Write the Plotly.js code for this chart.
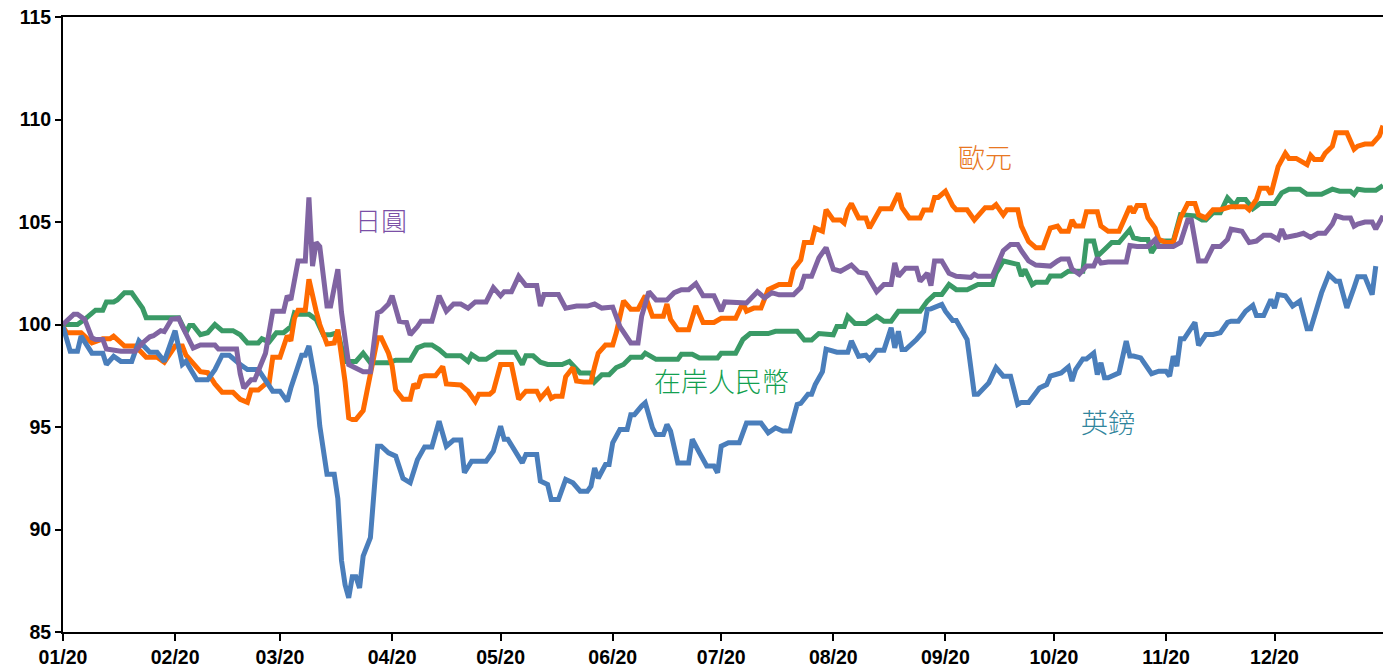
<!DOCTYPE html>
<html>
<head>
<meta charset="utf-8">
<script src="https://cdn.plot.ly/plotly-3.0.1.min.js"></script>
<style>
html,body{margin:0;padding:0;background:#fff;}
#chart{width:1383px;height:667px;}
</style>
</head>
<body>
<div id="chart"></div>
<script>
// ---- Data (index, 2020-01-01 = 100) ----
const jpyDates = ["2020-01-01","2020-01-04","2020-01-05","2020-01-07","2020-01-09","2020-01-10","2020-01-12","2020-01-13","2020-01-17","2020-01-21","2020-01-23","2020-01-25","2020-01-26","2020-01-28","2020-01-29","2020-01-31","2020-02-02","2020-02-03","2020-02-06","2020-02-08","2020-02-12","2020-02-13","2020-02-18","2020-02-19","2020-02-20","2020-02-22","2020-02-23","2020-02-25","2020-02-26","2020-02-28","2020-03-02","2020-03-03","2020-03-04","2020-03-06","2020-03-08","2020-03-09","2020-03-10","2020-03-11","2020-03-12","2020-03-14","2020-03-15","2020-03-17","2020-03-18","2020-03-20","2020-03-21","2020-03-24","2020-03-26","2020-03-28","2020-03-29","2020-03-31","2020-04-01","2020-04-03","2020-04-05","2020-04-06","2020-04-08","2020-04-09","2020-04-12","2020-04-14","2020-04-16","2020-04-18","2020-04-20","2020-04-22","2020-04-24","2020-04-27","2020-04-29","2020-05-01","2020-05-02","2020-05-04","2020-05-06","2020-05-08","2020-05-11","2020-05-12","2020-05-13","2020-05-17","2020-05-19","2020-05-22","2020-05-25","2020-05-27","2020-05-29","2020-06-01","2020-06-03","2020-06-06","2020-06-08","2020-06-09","2020-06-11","2020-06-13","2020-06-16","2020-06-18","2020-06-20","2020-06-22","2020-06-24","2020-06-26","2020-06-29","2020-07-01","2020-07-02","2020-07-06","2020-07-08","2020-07-11","2020-07-13","2020-07-15","2020-07-17","2020-07-21","2020-07-23","2020-07-24","2020-07-26","2020-07-28","2020-07-30","2020-08-01","2020-08-03","2020-08-06","2020-08-08","2020-08-10","2020-08-12","2020-08-13","2020-08-15","2020-08-17","2020-08-18","2020-08-19","2020-08-21","2020-08-24","2020-08-25","2020-08-27","2020-08-28","2020-08-29","2020-08-31","2020-09-02","2020-09-04","2020-09-08","2020-09-09","2020-09-10","2020-09-14","2020-09-15","2020-09-17","2020-09-19","2020-09-21","2020-09-22","2020-09-24","2020-09-26","2020-09-29","2020-09-30","2020-10-02","2020-10-03","2020-10-05","2020-10-06","2020-10-08","2020-10-10","2020-10-12","2020-10-13","2020-10-14","2020-10-16","2020-10-21","2020-10-22","2020-10-24","2020-10-27","2020-10-29","2020-10-30","2020-11-03","2020-11-05","2020-11-07","2020-11-08","2020-11-10","2020-11-12","2020-11-14","2020-11-16","2020-11-18","2020-11-19","2020-11-22","2020-11-24","2020-11-26","2020-11-28","2020-11-30","2020-12-02","2020-12-03","2020-12-04","2020-12-07","2020-12-09","2020-12-11","2020-12-13","2020-12-15","2020-12-17","2020-12-18","2020-12-20","2020-12-22","2020-12-23","2020-12-24","2020-12-26","2020-12-28","2020-12-29","2020-12-31"];
const jpyValues = [100,100.5,100.5,100.25,99.35,99.27,99.27,98.8,98.7,98.7,99.1,99.4,99.45,99.7,99.65,100.25,100.3,99.9,98.85,99.0,99.0,98.8,98.8,97.6,96.9,97.3,97.3,98.2,98.6,100.65,100.65,101.4,101.2,103.1,103.1,106.2,102.85,104,103.8,100.9,100.9,102.7,100.6,98.05,97.97,97.7,97.7,100.57,100.65,101,101.4,100.16,100.1,99.5,99.9,100.16,100.16,101.4,100.65,101,101,100.8,101.1,101.1,101.8,101.4,101.6,101.6,102.35,101.9,101.9,100.9,101.46,101.46,100.8,100.9,100.9,101,100.8,100.85,99.9,99.1,99.1,100.4,101.6,101.2,101.2,101.55,101.7,101.7,102,101.4,101.4,100.65,101.1,101.1,101.05,101.6,101.3,101.55,101.45,101.45,101.8,102.35,102.35,103.25,103.75,102.7,102.6,102.9,102.55,102.5,101.87,101.6,101.95,101.95,103,102.35,102.75,102.75,102.1,102.5,101.9,103.1,103.1,102.5,102.35,102.3,102.45,102.35,102.35,102.75,103.6,103.9,103.9,103.6,103.1,102.9,102.9,102.85,103.1,103.2,103.2,102.7,102.45,102.85,102.85,103.25,103,103.05,103.05,103.85,103.8,103.8,104.15,103.8,103.8,104,105.1,105.1,103.1,103.1,103.8,103.8,104.15,104.65,104.55,104,104.07,104.35,104.35,104.15,104.65,104.25,104.35,104.45,104.25,104.45,104.45,104.9,105.3,105.2,105.2,104.8,104.9,105,105,104.65,105.3];

const eurDates = ["2020-01-01","2020-01-02","2020-01-06","2020-01-09","2020-01-12","2020-01-14","2020-01-15","2020-01-16","2020-01-18","2020-01-21","2020-01-24","2020-01-27","2020-01-29","2020-02-01","2020-02-03","2020-02-04","2020-02-06","2020-02-08","2020-02-10","2020-02-12","2020-02-14","2020-02-17","2020-02-19","2020-02-21","2020-02-22","2020-02-24","2020-02-26","2020-02-27","2020-02-28","2020-03-01","2020-03-03","2020-03-04","2020-03-05","2020-03-06","2020-03-08","2020-03-09","2020-03-11","2020-03-12","2020-03-14","2020-03-16","2020-03-17","2020-03-18","2020-03-19","2020-03-20","2020-03-21","2020-03-22","2020-03-24","2020-03-25","2020-03-27","2020-03-28","2020-03-29","2020-03-31","2020-04-01","2020-04-02","2020-04-04","2020-04-06","2020-04-07","2020-04-08","2020-04-09","2020-04-10","2020-04-13","2020-04-15","2020-04-16","2020-04-18","2020-04-20","2020-04-22","2020-04-24","2020-04-25","2020-04-28","2020-04-29","2020-05-01","2020-05-04","2020-05-06","2020-05-08","2020-05-11","2020-05-12","2020-05-14","2020-05-15","2020-05-16","2020-05-18","2020-05-19","2020-05-21","2020-05-22","2020-05-24","2020-05-26","2020-05-27","2020-05-28","2020-05-30","2020-06-01","2020-06-02","2020-06-04","2020-06-06","2020-06-08","2020-06-10","2020-06-12","2020-06-15","2020-06-16","2020-06-17","2020-06-19","2020-06-22","2020-06-24","2020-06-26","2020-06-29","2020-07-01","2020-07-05","2020-07-07","2020-07-08","2020-07-10","2020-07-12","2020-07-14","2020-07-17","2020-07-20","2020-07-21","2020-07-23","2020-07-24","2020-07-26","2020-07-27","2020-07-29","2020-07-30","2020-08-01","2020-08-03","2020-08-04","2020-08-05","2020-08-06","2020-08-08","2020-08-10","2020-08-11","2020-08-14","2020-08-17","2020-08-19","2020-08-20","2020-08-22","2020-08-25","2020-08-26","2020-08-28","2020-08-29","2020-08-30","2020-09-01","2020-09-03","2020-09-04","2020-09-07","2020-09-09","2020-09-12","2020-09-14","2020-09-15","2020-09-17","2020-09-18","2020-09-21","2020-09-22","2020-09-24","2020-09-26","2020-09-28","2020-09-30","2020-10-02","2020-10-03","2020-10-05","2020-10-06","2020-10-07","2020-10-09","2020-10-10","2020-10-13","2020-10-14","2020-10-16","2020-10-19","2020-10-21","2020-10-22","2020-10-23","2020-10-24","2020-10-26","2020-10-27","2020-10-29","2020-10-30","2020-11-01","2020-11-03","2020-11-05","2020-11-07","2020-11-09","2020-11-10","2020-11-12","2020-11-14","2020-11-16","2020-11-19","2020-11-23","2020-11-24","2020-11-26","2020-11-27","2020-11-29","2020-11-30","2020-12-02","2020-12-04","2020-12-05","2020-12-07","2020-12-10","2020-12-11","2020-12-12","2020-12-14","2020-12-15","2020-12-17","2020-12-18","2020-12-21","2020-12-23","2020-12-24","2020-12-26","2020-12-28","2020-12-30","2020-12-31"];
const eurValues = [99.9,99.6,99.6,99.1,99.3,99.3,99.43,99.27,98.95,98.95,98.4,98.4,98.16,98.95,98.95,98.5,98.1,97.7,97.65,97.1,96.7,96.7,96.35,96.2,96.8,96.8,97.1,97.15,98.4,98.4,99.45,99.2,100.3,100.7,100.7,102.2,100.65,100,99.05,99.1,99.75,98.6,97.2,95.45,95.37,95.37,95.8,96.7,98.3,99.35,99.35,98.6,98,96.8,96.35,96.35,97.1,96.9,97.45,97.5,97.5,97.95,97.1,97.05,97.05,96.75,96.25,96.6,96.6,96.75,98.05,98.05,96.35,96.75,96.75,96.4,96.8,96.4,96.5,96.5,97.45,97.9,97.25,97.2,97.2,97.95,98.6,99,99,99.6,101.15,100.75,100.75,101.4,100.4,100.4,101,100.25,99.75,99.75,100.9,100.1,100.1,100.3,100.3,101.05,100.65,100.8,100.8,101.7,101.95,101.95,102.7,103.15,104,104,104.7,104.55,105.6,105.1,105.1,104.95,105.6,105.9,105.2,105.2,104.7,105.65,105.65,106.4,105.7,105.2,105.2,105.58,105.58,106.2,106.2,106.5,105.8,105.6,105.6,105.1,105.7,105.7,105.85,105.35,105.6,105.6,104.8,104.05,103.75,103.75,104.7,104.8,104.55,104.55,105.1,104.8,104.8,105.5,105.5,104.8,104.55,104.55,105.45,105.75,105.45,105.8,105.8,105.2,104.7,104.15,104,104,105.2,105.9,105.9,105.35,105.2,105.6,105.6,105.75,105.75,105.6,106.1,106.65,106.65,106.35,107.7,108.35,108.1,108.1,107.8,108.25,108.05,108.05,108.35,108.7,109.35,109.35,108.55,108.7,108.8,108.8,109.2,109.7];

const cnyDates = ["2020-01-01","2020-01-05","2020-01-07","2020-01-10","2020-01-12","2020-01-13","2020-01-15","2020-01-16","2020-01-18","2020-01-20","2020-01-21","2020-01-23","2020-01-24","2020-02-02","2020-02-04","2020-02-05","2020-02-06","2020-02-08","2020-02-10","2020-02-12","2020-02-14","2020-02-17","2020-02-19","2020-02-21","2020-02-24","2020-02-25","2020-02-27","2020-02-29","2020-03-02","2020-03-04","2020-03-05","2020-03-06","2020-03-09","2020-03-11","2020-03-13","2020-03-15","2020-03-17","2020-03-18","2020-03-19","2020-03-22","2020-03-24","2020-03-26","2020-03-31","2020-04-02","2020-04-06","2020-04-08","2020-04-10","2020-04-12","2020-04-14","2020-04-16","2020-04-20","2020-04-22","2020-04-23","2020-04-25","2020-04-27","2020-04-30","2020-05-05","2020-05-07","2020-05-08","2020-05-10","2020-05-12","2020-05-14","2020-05-18","2020-05-20","2020-05-23","2020-05-26","2020-05-27","2020-05-29","2020-05-31","2020-06-02","2020-06-04","2020-06-06","2020-06-09","2020-06-10","2020-06-13","2020-06-19","2020-06-20","2020-06-23","2020-06-25","2020-06-30","2020-07-01","2020-07-05","2020-07-07","2020-07-09","2020-07-14","2020-07-16","2020-07-22","2020-07-24","2020-07-26","2020-07-28","2020-07-30","2020-08-01","2020-08-02","2020-08-04","2020-08-05","2020-08-07","2020-08-10","2020-08-13","2020-08-15","2020-08-17","2020-08-19","2020-08-25","2020-08-27","2020-08-29","2020-08-31","2020-09-02","2020-09-04","2020-09-07","2020-09-09","2020-09-10","2020-09-14","2020-09-15","2020-09-17","2020-09-20","2020-09-21","2020-09-22","2020-09-23","2020-09-25","2020-09-26","2020-09-29","2020-09-30","2020-10-03","2020-10-05","2020-10-09","2020-10-10","2020-10-12","2020-10-13","2020-10-15","2020-10-17","2020-10-19","2020-10-22","2020-10-23","2020-10-25","2020-10-27","2020-10-28","2020-10-30","2020-11-03","2020-11-05","2020-11-07","2020-11-09","2020-11-11","2020-11-12","2020-11-14","2020-11-16","2020-11-18","2020-11-20","2020-11-21","2020-11-23","2020-11-25","2020-11-27","2020-12-01","2020-12-03","2020-12-05","2020-12-08","2020-12-10","2020-12-14","2020-12-17","2020-12-19","2020-12-22","2020-12-23","2020-12-24","2020-12-26","2020-12-29","2020-12-31"];
const cnyValues = [100,100,100.25,100.7,100.7,101.1,101.1,101.2,101.55,101.55,101.3,100.8,100.33,100.33,99.6,99.95,99.95,99.5,99.6,100,99.7,99.7,99.5,99.1,99.1,99.3,99.15,99.6,99.6,99.9,100.57,100.5,100.5,100.25,99.5,99.5,99.6,98.95,98.2,98.2,98.6,98.13,98.13,98.26,98.26,98.86,99,99,98.78,98.47,98.47,98.2,98.53,98.3,98.3,98.65,98.65,98.05,98.47,98.47,98.16,98.05,98.05,98.2,97.64,97.64,97.2,97.55,97.55,97.9,98.05,98.4,98.4,98.6,98.3,98.3,98.55,98.55,98.37,98.37,98.6,98.6,99.27,99.56,99.56,99.67,99.67,99.24,99.24,99.56,99.56,99.5,99.9,99.9,100.4,100.05,100.05,100.4,100.16,100.16,100.65,100.65,101.14,101.46,101.46,101.95,101.7,101.7,101.87,101.95,101.95,102.5,103.1,102.93,102.93,102.36,102.68,101.95,102.06,102.06,102.36,102.36,102.6,102.6,104.07,104.07,103.33,103.66,104,104,104.63,104.23,104.15,104.15,103.5,104.07,104.07,105.36,105.3,105.3,105.1,105.1,105.45,105.45,106.18,105.8,106.1,106.1,105.64,105.9,105.9,106.42,106.6,106.6,106.35,106.35,106.6,106.5,106.5,106.35,106.6,106.55,106.55,106.78];

const gbpDates = ["2020-01-01","2020-01-03","2020-01-05","2020-01-06","2020-01-09","2020-01-12","2020-01-13","2020-01-15","2020-01-17","2020-01-20","2020-01-22","2020-01-25","2020-01-27","2020-01-29","2020-02-01","2020-02-03","2020-02-04","2020-02-07","2020-02-10","2020-02-12","2020-02-14","2020-02-16","2020-02-19","2020-02-21","2020-02-24","2020-02-26","2020-02-28","2020-03-01","2020-03-03","2020-03-04","2020-03-07","2020-03-08","2020-03-09","2020-03-11","2020-03-12","2020-03-14","2020-03-16","2020-03-17","2020-03-18","2020-03-19","2020-03-20","2020-03-21","2020-03-22","2020-03-23","2020-03-24","2020-03-26","2020-03-28","2020-03-29","2020-03-31","2020-04-02","2020-04-04","2020-04-06","2020-04-08","2020-04-10","2020-04-12","2020-04-14","2020-04-16","2020-04-18","2020-04-20","2020-04-21","2020-04-23","2020-04-27","2020-04-29","2020-05-01","2020-05-02","2020-05-03","2020-05-05","2020-05-07","2020-05-08","2020-05-11","2020-05-12","2020-05-14","2020-05-15","2020-05-17","2020-05-19","2020-05-21","2020-05-23","2020-05-25","2020-05-26","2020-05-27","2020-05-28","2020-05-30","2020-05-31","2020-06-01","2020-06-03","2020-06-05","2020-06-06","2020-06-07","2020-06-09","2020-06-10","2020-06-12","2020-06-13","2020-06-15","2020-06-16","2020-06-17","2020-06-19","2020-06-22","2020-06-23","2020-06-25","2020-06-27","2020-06-29","2020-06-30","2020-07-01","2020-07-03","2020-07-06","2020-07-08","2020-07-12","2020-07-14","2020-07-16","2020-07-18","2020-07-20","2020-07-22","2020-07-23","2020-07-25","2020-07-26","2020-07-27","2020-07-29","2020-07-30","2020-08-02","2020-08-05","2020-08-06","2020-08-08","2020-08-10","2020-08-11","2020-08-12","2020-08-13","2020-08-15","2020-08-17","2020-08-18","2020-08-19","2020-08-20","2020-08-21","2020-08-24","2020-08-26","2020-08-27","2020-08-28","2020-08-31","2020-09-01","2020-09-03","2020-09-04","2020-09-07","2020-09-08","2020-09-09","2020-09-10","2020-09-13","2020-09-15","2020-09-17","2020-09-19","2020-09-21","2020-09-22","2020-09-24","2020-09-27","2020-09-29","2020-09-30","2020-10-02","2020-10-03","2020-10-05","2020-10-06","2020-10-07","2020-10-09","2020-10-10","2020-10-12","2020-10-13","2020-10-14","2020-10-15","2020-10-16","2020-10-19","2020-10-21","2020-10-22","2020-10-23","2020-10-25","2020-10-28","2020-10-30","2020-11-01","2020-11-02","2020-11-03","2020-11-04","2020-11-05","2020-11-06","2020-11-09","2020-11-10","2020-11-12","2020-11-14","2020-11-16","2020-11-18","2020-11-19","2020-11-21","2020-11-23","2020-11-25","2020-11-26","2020-11-28","2020-11-30","2020-12-01","2020-12-02","2020-12-04","2020-12-06","2020-12-08","2020-12-10","2020-12-11","2020-12-14","2020-12-16","2020-12-18","2020-12-19","2020-12-21","2020-12-23","2020-12-24","2020-12-26","2020-12-28","2020-12-29","2020-12-31"];
const gbpValues = [99.9,98.7,98.7,99.43,98.6,98.6,98.05,98.45,98.2,98.2,99.2,98.65,98.65,98.2,99.7,98.05,98.2,97.3,97.3,97.8,98.5,98.5,98.05,97.8,97.8,97.3,96.75,96.75,96.25,96.9,98.5,98.5,98.95,97,95.05,92.7,92.7,91.5,88.5,87.3,86.67,87.7,87.7,87.15,88.7,89.6,94.06,94.06,93.74,93.58,92.5,92.28,93.4,94.03,94.03,95.28,94.06,94.36,94.36,92.77,93.33,93.33,93.82,95.04,94.4,94.4,93.82,93.25,93.66,93.66,92.36,92.2,91.46,91.46,92.44,92.28,91.87,91.87,92.11,93,92.5,93.17,93.17,94.23,94.88,94.88,95.6,95.6,96.02,96.18,94.96,94.63,94.63,95.12,94.8,93.25,93.25,94.4,93.74,93.1,93.1,92.77,94.06,94.23,94.23,95.2,95.2,94.72,94.96,94.8,94.8,96.1,96.15,96.6,96.6,97.07,97.7,98.8,98.65,98.65,99.2,98.45,98.5,98.3,98.5,98.75,98.75,99.84,98.86,99.67,98.78,98.78,99.27,99.67,100.73,100.76,100.98,100.65,100.2,100.2,99.27,98.13,96.6,96.6,97.15,97.9,97.48,97.48,96.1,96.2,96.2,96.9,97.07,97.48,97.6,97.64,97.93,97.24,97.8,98.32,98.32,98.6,97.56,98.13,97.4,97.4,97.64,99.19,98.46,98.46,98.37,97.6,97.72,97.72,97.48,98.46,97.97,99.3,99.3,100.1,98.98,99.51,99.51,99.6,100.1,100.16,100.16,100.65,100.93,100.44,100.44,101.22,100.8,101.46,101.4,100.9,101.14,99.79,99.79,101.54,102.44,102.11,102.11,100.81,101.8,102.33,102.33,101.46,102.85];

const seriesNames = ["在岸人民幣","歐元","英鎊","日圓"];
const lineColors = ["#3A9A66","#FF6A00","#4A7EBB","#8064A2"];
const labelColors = ["#12A050","#E87722","#31859C","#7B4FA6"];
const yTicks = [85,90,95,100,105,110,115];

const traces = [
  {x: cnyDates, y: cnyValues},
  {x: eurDates, y: eurValues},
  {x: gbpDates, y: gbpValues},
  {x: jpyDates, y: jpyValues}
].map((t,i)=>({
  x: t.x, y: t.y, type:'scatter', mode:'lines', name: seriesNames[i],
  line:{color: lineColors[i], width:5}, hoverinfo:'x+y'
}));

const labelPos = [
  {x:"2020-07-01", y:97.25},
  {x:"2020-09-12", y:108.2},
  {x:"2020-10-16", y:95.25},
  {x:"2020-03-29", y:105.1}
];
const labelSizes = [27, 27, 27, 26];
const annotations = labelPos.map((p,i)=>({
  x:p.x, y:p.y, xref:'x', yref:'y', text: seriesNames[i], showarrow:false,
  font:{family:'"Noto Sans CJK TC", sans-serif', size:labelSizes[i], color: labelColors[i], weight:300}
}));

const tickFont = {family:'"Liberation Sans", Arial, sans-serif', size:19.5, color:'#000', weight:'bold'};

const layout = {
  width:1383, height:667,
  margin:{l:63, r:0, t:17, b:35},
  paper_bgcolor:'#fff', plot_bgcolor:'#fff',
  showlegend:false,
  font:{family:'"Liberation Sans", Arial, sans-serif', color:'#000'},
  xaxis:{
    type:'date', range:['2020-01-01','2020-12-31'],
    tick0:'2020-01-01', dtick:'M1', tickformat:'%m/%y',
    ticks:'outside', ticklen:7, tickwidth:2, tickcolor:'#000',
    showline:true, linecolor:'#000', linewidth:2, mirror:true,
    showgrid:false, zeroline:false,
    tickfont: tickFont
  },
  yaxis:{
    range:[85,115], tickvals:yTicks, ticktext: yTicks.map(String),
    ticks:'outside', ticklen:6, tickwidth:2, tickcolor:'#000',
    showline:true, linecolor:'#000', linewidth:2,
    showgrid:false, zeroline:false,
    tickfont: tickFont
  },
  annotations: annotations
};

Plotly.newPlot('chart', traces, layout, {displayModeBar:false, staticPlot:true});
</script>
</body>
</html>
